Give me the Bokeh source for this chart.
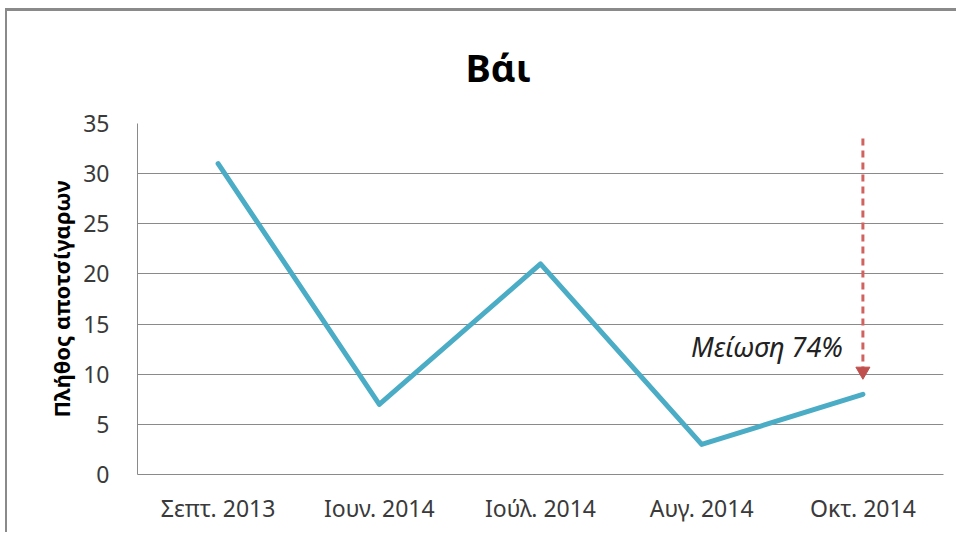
from bokeh.plotting import figure
from bokeh.models import FactorRange, Range1d, Title, SingleIntervalTicker
from bokeh.core.properties import value
from bokeh.embed import file_html
from bokeh.resources import INLINE

# Data
months = ["Σεπτ. 2013", "Ιουν. 2014", "Ιούλ. 2014", "Αυγ. 2014", "Οκτ. 2014"]
counts = [31, 7, 21, 3, 8]
title_text = "Βάι"
y_label = "Πλήθος αποτσίγαρων"
note_text = "Μείωση 74%"
arrow_month = ["Οκτ. 2014"]
arrow_top = [33.5]
arrow_head = [10.3]
note_y = [12.8]

FONT = "Noto Sans"

p = figure(width=951, height=524, output_backend="svg", toolbar_location=None,
           x_range=FactorRange(*months, range_padding=0), y_range=Range1d(0, 35),
           min_border_left=130, min_border_right=15, min_border_top=112, min_border_bottom=61,
           styles={"border-top": "3px solid #8a8a8a", "border-left": "2px solid #8a8a8a",
                   "margin-left": "5px", "margin-top": "8px"})
p.background_fill_color = "white"
p.border_fill_color = "white"
p.outline_line_color = None

p.title = Title(text=title_text, align="left", offset=328, standoff=58,
                vertical_align="top",
                text_font=FONT, text_font_size="38px", text_font_style="bold",
                text_color="black")

# axes
for ax in (p.xaxis[0], p.yaxis[0]):
    ax.axis_line_color = "#8a8a8a"
    ax.axis_line_width = 1
    ax.major_tick_line_color = None
    ax.minor_tick_line_color = None
    ax.major_tick_out = 0
    ax.major_tick_in = 0
    ax.major_label_text_font = FONT
    ax.major_label_text_font_size = "23px"
    ax.major_label_text_color = "#3a3a3a"

p.yaxis[0].ticker = SingleIntervalTicker(interval=5)
p.yaxis[0].major_label_standoff = 24
p.yaxis[0].axis_label = y_label
p.yaxis[0].axis_label_text_font = FONT
p.yaxis[0].axis_label_text_font_size = "22px"
p.yaxis[0].axis_label_text_font_style = "bold"
p.yaxis[0].axis_label_text_color = "black"
p.yaxis[0].axis_label_standoff = 4
p.xaxis[0].major_label_standoff = 17

p.xgrid.grid_line_color = None
p.ygrid.grid_line_color = "#8a8a8a"
p.ygrid.grid_line_width = 1
p.ygrid.ticker = SingleIntervalTicker(interval=5)

p.line(months, counts, line_color="#4BACC6", line_width=5, line_cap="round", line_join="round")

# dashed arrow
p.segment(x0=arrow_month, y0=arrow_top, x1=arrow_month, y1=arrow_head,
          line_color="#D0625F", line_width=3, line_dash="7 5")
p.scatter(x=arrow_month, y=arrow_head, marker="inverted_triangle", size=14,
          fill_color="#C0504D", line_color="#C0504D")

p.text(x=arrow_month, y=note_y, text=[note_text], x_offset=-20,
       text_align="right", text_baseline="middle",
       text_font=value(FONT), text_font_size="27px", text_font_style="italic",
       text_color="#222222")

open("out.html", "w").write(file_html(p, INLINE))
